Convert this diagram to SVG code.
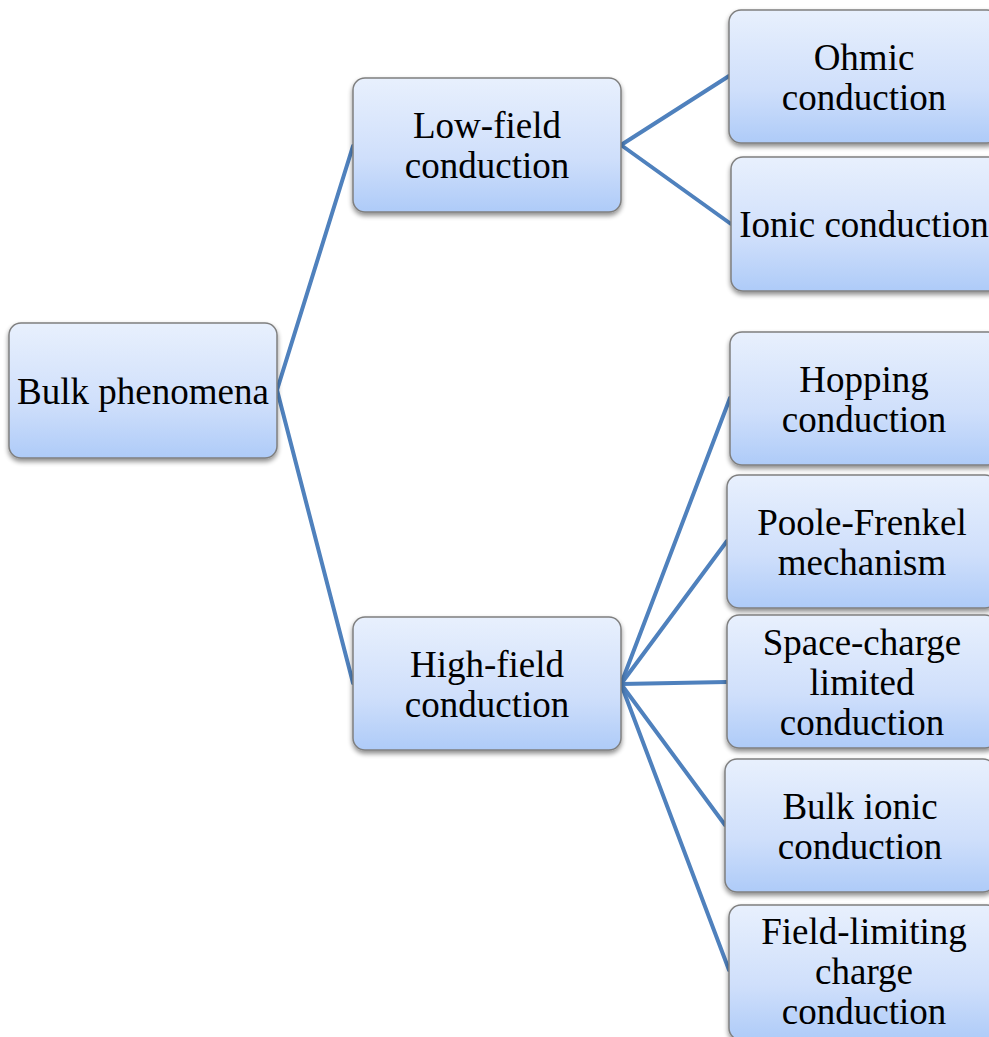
<svg xmlns="http://www.w3.org/2000/svg" width="989" height="1037" viewBox="0 0 989 1037">
<defs>
<linearGradient id="g" x1="0" y1="0" x2="0" y2="1">
<stop offset="0" stop-color="#E8F0FD"/>
<stop offset="0.6" stop-color="#CFDFFB"/>
<stop offset="1" stop-color="#AECBF8"/>
</linearGradient>
<filter id="sh" x="-10%" y="-10%" width="120%" height="130%">
<feGaussianBlur in="SourceAlpha" stdDeviation="2.5"/>
<feOffset dx="0" dy="3" result="b"/>
<feComponentTransfer><feFuncA type="linear" slope="0.45"/></feComponentTransfer>
<feMerge><feMergeNode/><feMergeNode in="SourceGraphic"/></feMerge>
</filter>
</defs>
<style>
.box{fill:url(#g);stroke:#7F7F7F;stroke-width:1.5;filter:url(#sh)}
.t{font-family:"Liberation Serif","Times New Roman",serif;font-size:37px;fill:#000;text-anchor:middle}
.c{stroke:#4F81BD;stroke-width:4;fill:none;stroke-linecap:round}
</style>
<rect width="989" height="1037" fill="#fff"/>
<g id="connectors">
<line class="c" x1="277" y1="390" x2="353" y2="146"/>
<line class="c" x1="277" y1="390" x2="353" y2="683"/>
<line class="c" x1="621" y1="145" x2="729" y2="76"/>
<line class="c" x1="621" y1="145" x2="731" y2="224"/>
<line class="c" x1="621" y1="684" x2="730" y2="398"/>
<line class="c" x1="621" y1="684" x2="727" y2="541"/>
<line class="c" x1="621" y1="684" x2="727" y2="682"/>
<line class="c" x1="621" y1="684" x2="725" y2="825"/>
<line class="c" x1="621" y1="684" x2="729" y2="970"/>
</g>
<g id="bulk">
<rect class="box" x="9" y="323" width="268" height="135" rx="12"/>
<text class="t" x="143" y="404">Bulk phenomena</text>
</g>
<g id="lowfield">
<rect class="box" x="353" y="78" width="268" height="134" rx="12"/>
<text class="t" x="487" y="138">Low-field</text>
<text class="t" x="487" y="178">conduction</text>
</g>
<g id="highfield">
<rect class="box" x="353" y="617" width="268" height="133" rx="12"/>
<text class="t" x="487" y="677">High-field</text>
<text class="t" x="487" y="717">conduction</text>
</g>
<g id="ohmic">
<rect class="box" x="729" y="10" width="270" height="133" rx="12"/>
<text class="t" x="864" y="70">Ohmic</text>
<text class="t" x="864" y="110">conduction</text>
</g>
<g id="ionic">
<rect class="box" x="731" y="157" width="270" height="134" rx="12"/>
<text class="t" x="864" y="237">Ionic conduction</text>
</g>
<g id="hopping">
<rect class="box" x="730" y="332" width="270" height="133" rx="12"/>
<text class="t" x="864" y="392">Hopping</text>
<text class="t" x="864" y="432">conduction</text>
</g>
<g id="poole">
<rect class="box" x="727" y="475" width="270" height="133" rx="12"/>
<text class="t" x="862" y="535">Poole-Frenkel</text>
<text class="t" x="862" y="575">mechanism</text>
</g>
<g id="spacecharge">
<rect class="box" x="727" y="615" width="270" height="133" rx="12"/>
<text class="t" x="862" y="655">Space-charge</text>
<text class="t" x="862" y="695">limited</text>
<text class="t" x="862" y="735">conduction</text>
</g>
<g id="bulkionic">
<rect class="box" x="725" y="759" width="270" height="133" rx="12"/>
<text class="t" x="860" y="819">Bulk ionic</text>
<text class="t" x="860" y="859">conduction</text>
</g>
<g id="fieldlimiting">
<rect class="box" x="729" y="905" width="270" height="135" rx="12"/>
<text class="t" x="864" y="944">Field-limiting</text>
<text class="t" x="864" y="984">charge</text>
<text class="t" x="864" y="1024">conduction</text>
</g>
</svg>
